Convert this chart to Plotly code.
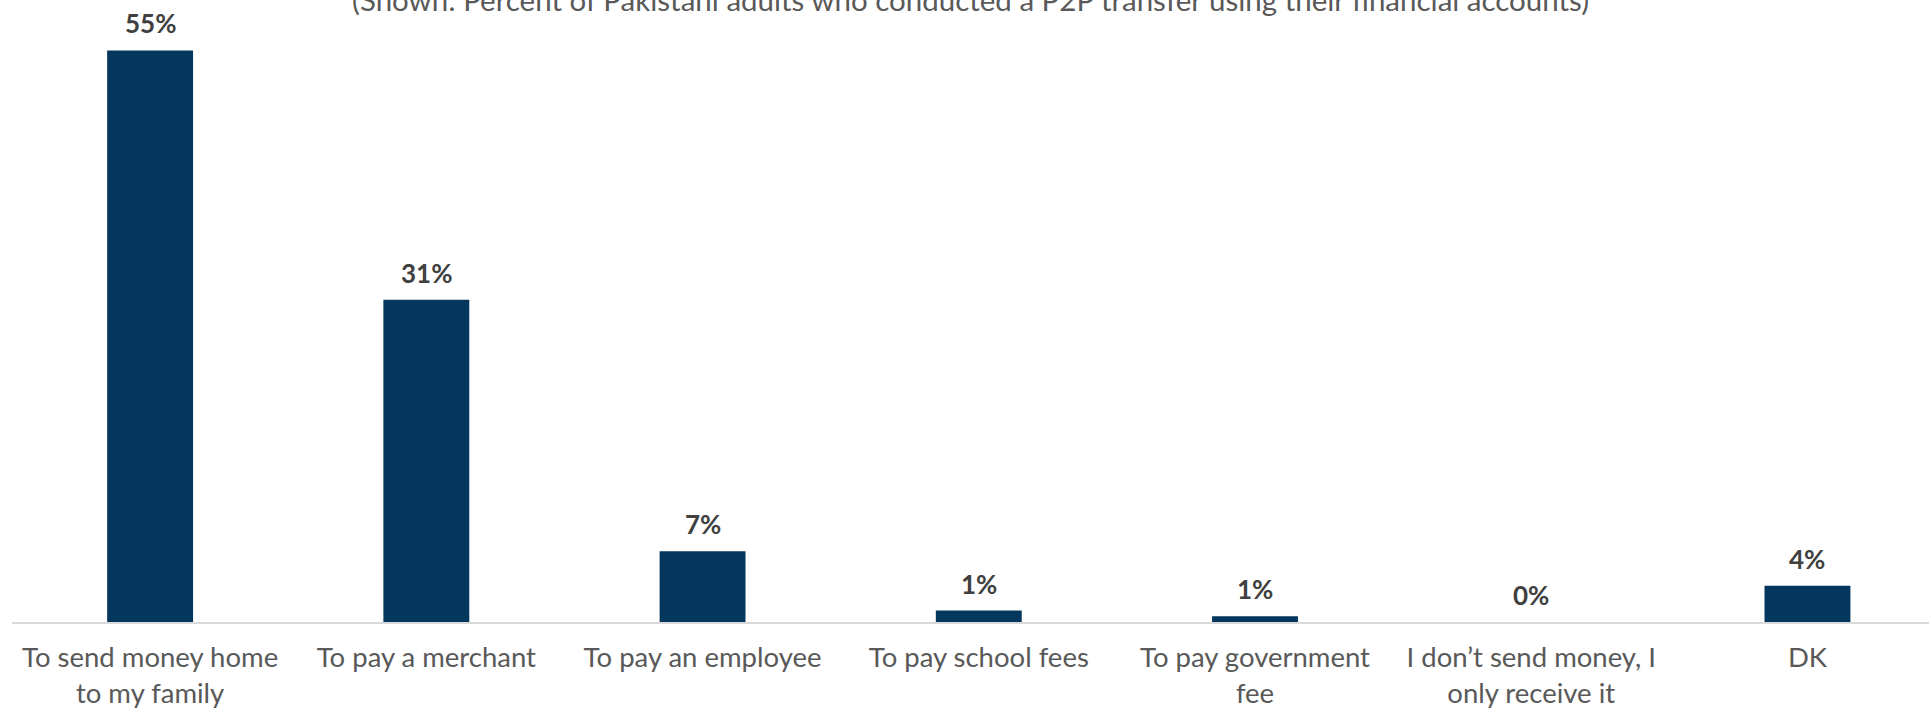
import plotly.graph_objects as go

# Purposes of P2P transfers
categories = [
    "To send money home<br>to my family",
    "To pay a merchant",
    "To pay an employee",
    "To pay school fees",
    "To pay government<br>fee",
    "I don’t send money, I<br>only receive it",
    "DK",
]
values = [55.0, 31.0, 6.8, 1.1, 0.55, 0.0, 3.5]
subtitle = "(Shown: Percent of Pakistani adults who conducted a P2P transfer using their financial accounts)"

BAR_COLOR = "#04375E"
TEXT_GREY = "#595959"
LABEL_GREY = "#404040"
FONT = "Lato"

fig = go.Figure(
    go.Bar(
        x=categories,
        y=values,
        marker=dict(color=BAR_COLOR, line=dict(width=0)),
        width=0.311,
        hoverinfo="skip",
    )
)

# value labels above each bar
for c, v in zip(categories, values):
    fig.add_annotation(
        x=c, y=v, xref="x", yref="y",
        text=f"<b>{v:.0f}%</b>",
        showarrow=False,
        yanchor="middle",
        yshift=27,
        font=dict(family=FONT, size=26, color=LABEL_GREY),
    )

fig.add_annotation(
    x=0.5, y=1, xref="paper", yref="paper",
    text=subtitle,
    showarrow=False,
    yanchor="bottom",
    yshift=21,
    font=dict(family=FONT, size=29.5, color=TEXT_GREY),
)

fig.update_layout(
    width=1929,
    height=709,
    margin=dict(l=12, r=0, t=40, b=87, autoexpand=False),
    paper_bgcolor="white",
    plot_bgcolor="white",
    showlegend=False,
    font=dict(family=FONT, size=27.5, color=TEXT_GREY),
    xaxis=dict(
        type="category",
        range=[-0.5, 6.44],
        automargin=False,
        showline=True,
        linecolor="#D9D9D9",
        linewidth=2,
        ticks="",
        showgrid=False,
        tickfont=dict(family=FONT, size=27.5, color=TEXT_GREY),
        ticklabelstandoff=10,
    ),
    yaxis=dict(
        range=[0, 56],
        visible=False,
        showgrid=False,
        zeroline=False,
    ),
)

fig.write_html("out.html")
